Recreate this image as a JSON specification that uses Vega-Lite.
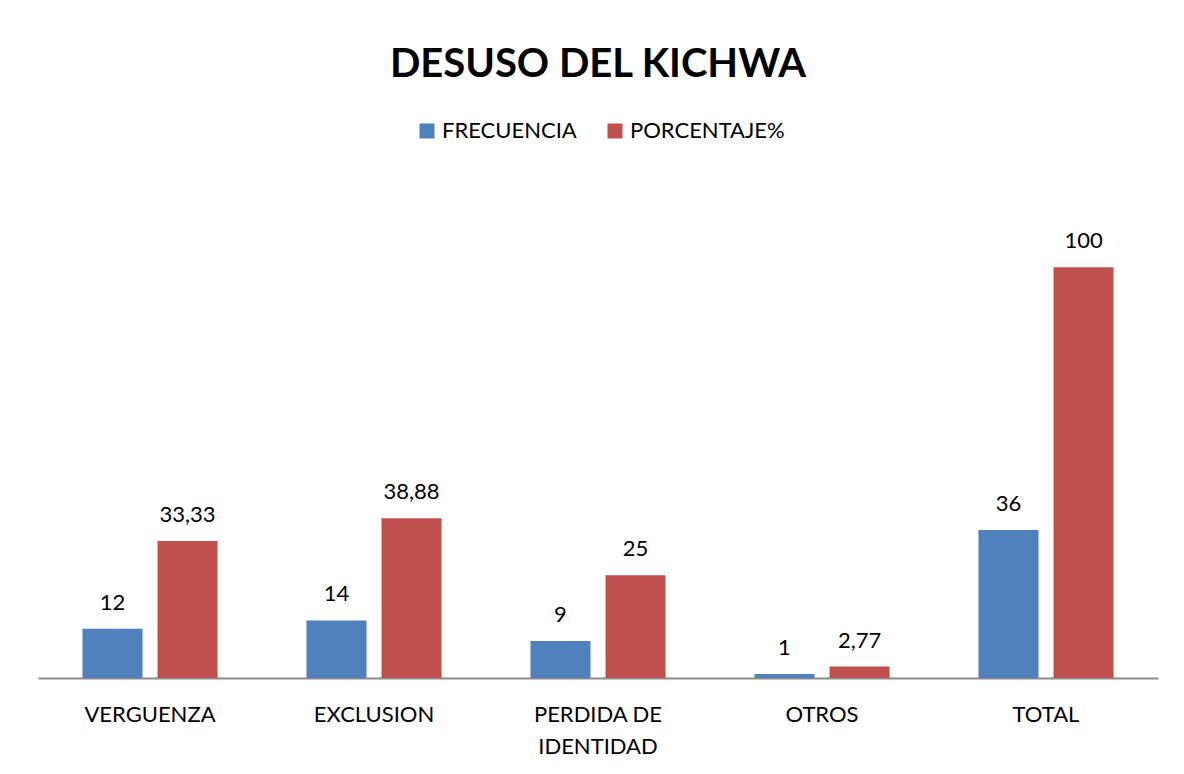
{
  "$schema": "https://vega.github.io/schema/vega-lite/v6.json",
  "width": 1120,
  "height": 493,
  "autosize": {"type": "none"},
  "padding": {"left": 38, "top": 185, "right": 26, "bottom": 96},
  "background": "white",
  "config": {
    "font": "Lato",
    "view": {"stroke": null}
  },
  "title": {
    "text": "DESUSO DEL KICHWA",
    "fontSize": 40,
    "fontWeight": "bold",
    "font": "Lato",
    "color": "#000000",
    "anchor": "middle",
    "frame": "group",
    "offset": 35
  },
  "data": {
    "values": [
      {"categoria": "VERGUENZA", "serie": "FRECUENCIA", "valor": 12, "etiqueta": "12"},
      {"categoria": "VERGUENZA", "serie": "PORCENTAJE%", "valor": 33.33, "etiqueta": "33,33"},
      {"categoria": "EXCLUSION", "serie": "FRECUENCIA", "valor": 14, "etiqueta": "14"},
      {"categoria": "EXCLUSION", "serie": "PORCENTAJE%", "valor": 38.88, "etiqueta": "38,88"},
      {"categoria": "PERDIDA DE IDENTIDAD", "serie": "FRECUENCIA", "valor": 9, "etiqueta": "9"},
      {"categoria": "PERDIDA DE IDENTIDAD", "serie": "PORCENTAJE%", "valor": 25, "etiqueta": "25"},
      {"categoria": "OTROS", "serie": "FRECUENCIA", "valor": 1, "etiqueta": "1"},
      {"categoria": "OTROS", "serie": "PORCENTAJE%", "valor": 2.77, "etiqueta": "2,77"},
      {"categoria": "TOTAL", "serie": "FRECUENCIA", "valor": 36, "etiqueta": "36"},
      {"categoria": "TOTAL", "serie": "PORCENTAJE%", "valor": 100, "etiqueta": "100"}
    ]
  },
  "encoding": {
    "x": {
      "field": "categoria",
      "type": "nominal",
      "sort": ["VERGUENZA", "EXCLUSION", "PERDIDA DE IDENTIDAD", "OTROS", "TOTAL"],
      "scale": {"paddingInner": 0.397, "paddingOuter": 0.1985},
      "axis": {
        "title": null,
        "labelAngle": 0,
        "labelFontSize": 22,
        "labelFont": "Lato",
        "labelColor": "#000000",
        "labelPadding": 36,
        "labelBaseline": "middle",
        "labelLineHeight": 32,
        "ticks": false,
        "domainColor": "#8c8c8c",
        "domainWidth": 2,
        "labelExpr": "datum.label == 'PERDIDA DE IDENTIDAD' ? ['PERDIDA DE', 'IDENTIDAD'] : datum.label"
      }
    },
    "xOffset": {
      "field": "serie",
      "type": "nominal",
      "sort": ["FRECUENCIA", "PORCENTAJE%"],
      "scale": {"paddingInner": 0.2, "paddingOuter": 0}
    },
    "y": {
      "field": "valor",
      "type": "quantitative",
      "scale": {"domain": [0, 120], "nice": false},
      "axis": null
    }
  },
  "layer": [
    {
      "mark": {"type": "bar"},
      "encoding": {
        "color": {
          "field": "serie",
          "type": "nominal",
          "sort": ["FRECUENCIA", "PORCENTAJE%"],
          "scale": {"domain": ["FRECUENCIA", "PORCENTAJE%"], "range": ["#4F81BD", "#C0504D"]},
          "legend": {
            "title": null,
            "orient": "none",
            "direction": "horizontal",
            "legendX": 378,
            "legendY": -65,
            "symbolType": "square",
            "symbolSize": 225,
            "symbolStrokeWidth": 0,
            "labelFontSize": 22,
            "labelFont": "Lato",
            "labelColor": "#000000",
            "labelOffset": 4,
            "columnPadding": 27
          }
        }
      }
    },
    {
      "mark": {"type": "text", "fontSize": 22, "font": "Lato", "color": "#000000", "baseline": "alphabetic", "dy": -19},
      "encoding": {
        "text": {"field": "etiqueta"}
      }
    }
  ]
}
